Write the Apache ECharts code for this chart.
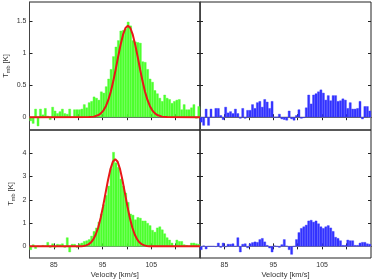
<!DOCTYPE html>
<html><head><meta charset="utf-8">
<script src="https://cdn.jsdelivr.net/npm/echarts@6/dist/echarts.min.js"></script>
<style>html,body{margin:0;padding:0;background:#fff}#c{width:374px;height:280px}</style>
</head><body><div id="c"></div><script>
// channel grid (km/s)
const chanStart = 80.25, chanWidth = 0.5;
const xTicks = [85, 90, 95, 100, 105, 110];
const xLabels = [85, 95, 105];
const yTicksTop = [0, 0.5, 1, 1.5];
const yTicksBot = [0, 1, 2, 3, 4];

const topLeft = [
-0.06,-0.10,0.13,-0.14,0.13,0.04,0.14,0.02,-0.04,0.16,
0.10,0.06,0.09,0.13,0.06,0.05,0.13,0.00,0.12,0.12,
0.12,0.13,0.20,0.15,0.23,0.25,0.32,0.30,0.27,0.40,
0.38,0.48,0.60,0.75,0.95,1.10,1.20,1.35,1.36,1.38,
1.49,1.43,1.20,1.18,1.17,1.16,0.87,0.86,0.75,0.60,
0.55,0.42,0.37,0.30,0.25,0.35,0.30,0.28,0.22,0.25,
0.27,0.28,0.12,0.20,0.12,0.12,0.15,0.20,-0.02,0.17];
const topRight = [
-0.08,-0.13,0.13,-0.13,0.13,0.00,0.14,0.14,0.03,-0.04,
0.16,0.07,0.09,0.06,0.13,0.06,-0.02,0.14,-0.02,0.11,
0.11,0.20,0.14,0.23,0.25,0.16,0.28,0.24,0.14,0.25,
0.00,0.00,0.05,-0.03,-0.04,-0.05,0.10,-0.03,-0.05,0.03,
0.12,-0.02,-0.01,0.15,0.35,0.21,0.35,0.37,0.40,0.43,
0.38,0.27,0.34,0.26,0.34,0.34,0.25,0.26,0.29,0.27,
0.14,0.23,0.13,0.13,0.14,0.25,-0.03,0.17,0.17,0.10];
const bottomLeft = [
-0.15,0.08,-0.10,0.02,0.00,0.05,0.03,0.18,-0.05,0.12,
-0.05,0.10,0.08,0.12,-0.05,0.38,-0.25,0.10,0.10,-0.05,
0.12,0.15,0.22,0.25,0.30,0.45,0.65,0.80,1.05,1.40,
1.80,2.20,2.60,3.35,4.05,3.60,3.40,2.90,2.60,2.30,
1.90,1.40,1.35,1.15,1.25,1.22,1.10,1.10,1.00,0.90,
0.70,0.62,0.80,0.85,0.72,0.55,0.38,0.28,0.15,0.02,
0.28,0.22,0.22,0.08,0.05,0.02,0.15,0.15,0.12,0.10];
const bottomRight = [
-0.15,0.03,-0.12,0.00,0.00,0.00,-0.02,0.15,-0.05,0.15,
-0.03,0.10,0.10,0.12,0.00,0.38,-0.25,0.10,0.12,-0.07,
0.12,0.17,0.20,0.18,0.30,0.35,0.20,0.05,-0.08,-0.25,
0.03,0.00,-0.05,0.08,0.30,0.02,-0.15,-0.35,0.00,0.30,
0.60,0.78,0.85,0.92,1.10,1.13,1.05,1.10,0.98,0.85,
0.78,0.85,0.90,0.80,0.65,0.40,0.35,0.25,0.05,0.05,
0.28,0.25,0.25,0.05,0.05,0.15,0.18,0.18,0.12,0.10];

const fitTopVel = [80,92.2,93.2,94.2,94.7,95.2,95.7,96.2,96.7,97.2,97.7,98.2,98.7,99.2,99.7,100.2,100.7,101.2,101.7,102.2,102.7,103.2,103.7,104.2,104.7,105.2,105.7,106.2,107.2,108.2,115];
const fitTopT = [0,0.002,0.009,0.035,0.063,0.108,0.176,0.274,0.403,0.564,0.750,0.946,1.133,1.290,1.394,1.430,1.394,1.290,1.133,0.946,0.750,0.564,0.403,0.274,0.176,0.108,0.063,0.035,0.009,0.002,0];
const fitBotVel = [80,89.6,90.6,91.1,91.6,92.1,92.6,93.1,93.6,94.1,94.6,95.1,95.6,96.1,96.6,97.1,97.6,98.1,98.6,99.1,99.6,100.1,100.6,101.1,101.6,102.1,102.6,103.1,103.6,104.1,104.6,105.6,115];
const fitBotT = [0,0.001,0.008,0.019,0.042,0.086,0.165,0.298,0.508,0.811,1.217,1.717,2.275,2.830,3.309,3.635,3.750,3.635,3.309,2.830,2.275,1.717,1.217,0.811,0.508,0.298,0.165,0.086,0.042,0.019,0.008,0.001,0];

const FONT = 'Liberation Sans, Arial, sans-serif';
const TXT = '#333';
const LINE = '#222';
const chart = echarts.init(document.getElementById('c'), null, {renderer: 'canvas'});

const panels = [
  {grid: {left: 29.5, top: 2, width: 170.5, height: 128}, data: topLeft, color: '#4dff2e', fit: [fitTopVel, fitTopT], y: [-0.2, 1.8], yt: yTicksTop, row: 0, col: 0},
  {grid: {left: 200, top: 2, width: 171, height: 128}, data: topRight, color: '#3333ff', fit: null, y: [-0.2, 1.8], yt: yTicksTop, row: 0, col: 1},
  {grid: {left: 29.5, top: 130, width: 170.5, height: 128}, data: bottomLeft, color: '#4dff2e', fit: [fitBotVel, fitBotT], y: [-0.5, 5], yt: yTicksBot, row: 1, col: 0},
  {grid: {left: 200, top: 130, width: 171, height: 128}, data: bottomRight, color: '#3333ff', fit: null, y: [-0.5, 5], yt: yTicksBot, row: 1, col: 1}
];

const grids = [], xAxes = [], yAxes = [], series = [];
panels.forEach((p, k) => {
  grids.push(Object.assign({show: true, borderColor: LINE, borderWidth: 1, backgroundColor: 'transparent'}, p.grid));
  const tick = {show: true, inside: true, length: 3, lineStyle: {color: LINE, width: 1}};
  const bottomRow = p.row === 1;
  xAxes.push({type: 'value', gridIndex: k, position: 'bottom', min: 80, max: 115,
    axisLine: {show: true, lineStyle: {color: '#000', width: 1}},
    axisTick: Object.assign({customValues: xTicks}, tick),
    axisLabel: {show: bottomRow, customValues: xLabels, fontSize: 7, color: TXT, fontFamily: FONT, margin: 4},
    splitLine: {show: false},
    name: bottomRow ? 'Velocity [km/s]' : '', nameLocation: 'middle', nameGap: 13,
    nameTextStyle: {fontSize: 7.5, color: TXT, fontFamily: FONT}});
  xAxes.push({type: 'value', gridIndex: k, position: 'top', min: 80, max: 115,
    axisLine: {show: false}, axisTick: Object.assign({customValues: xTicks}, tick),
    axisLabel: {show: false}, splitLine: {show: false}});
  const leftCol = p.col === 0;
  yAxes.push({type: 'value', gridIndex: k, position: 'left', min: p.y[0], max: p.y[1],
    axisLine: {show: true, lineStyle: {color: '#444'}},
    axisTick: Object.assign({customValues: p.yt}, tick),
    axisLabel: {show: leftCol, customValues: p.yt, fontSize: 7, color: TXT, fontFamily: FONT, margin: 3},
    splitLine: {show: false},
    name: leftCol ? '{t|T}{s|mb}{t| [K]}' : '', nameLocation: 'middle', nameRotate: 90,
    nameGap: p.row === 0 ? 18 : 13,
    nameTextStyle: {fontSize: 7.5, color: TXT, fontFamily: FONT,
      rich: {t: {fontSize: 7.5, color: TXT, fontFamily: FONT},
             s: {fontSize: 5.5, color: TXT, fontFamily: FONT, padding: [5, 0, 0, 0]}}}});
  yAxes.push({type: 'value', gridIndex: k, position: 'right', min: p.y[0], max: p.y[1],
    axisLine: {show: false}, axisTick: Object.assign({customValues: p.yt}, tick),
    axisLabel: {show: false}, splitLine: {show: false}});

  series.push({type: 'line', xAxisIndex: 2 * k, yAxisIndex: 2 * k, data: [[80, 0], [115, 0]],
    symbol: 'none', lineStyle: {color: '#999', width: 1}, z: 1, silent: true});
  series.push({type: 'bar', xAxisIndex: 2 * k, yAxisIndex: 2 * k,
    data: p.data.map((t, i) => [chanStart + chanWidth * i, t]),
    barWidth: '100%', barCategoryGap: '0%',
    itemStyle: {color: p.color, borderColor: p.color, borderWidth: 0.4}, z: 2, silent: true});
  if (p.fit) {
    series.push({type: 'line', xAxisIndex: 2 * k, yAxisIndex: 2 * k,
      data: p.fit[0].map((v, i) => [v, p.fit[1][i]]),
      symbol: 'none', smooth: false, lineStyle: {color: '#e81818', width: 2}, z: 3, silent: true});
  }
});

chart.setOption({animation: false, grid: grids, xAxis: xAxes, yAxis: yAxes, series: series});
</script></body></html>
